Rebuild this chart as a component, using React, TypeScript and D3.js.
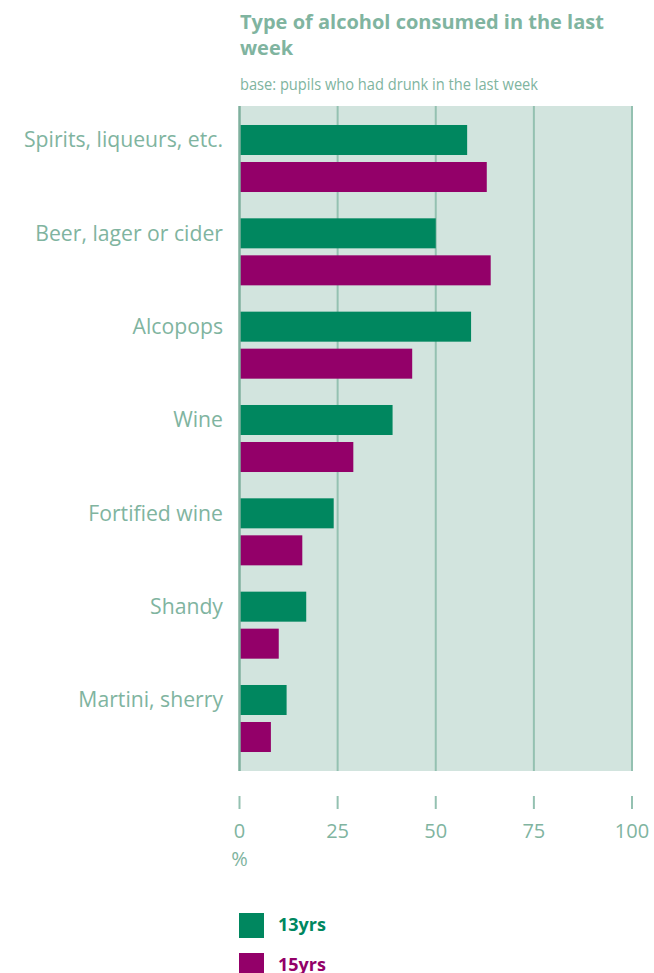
import React from "react";
import * as d3 from "d3";

const categories = [
  "Spirits, liqueurs, etc.",
  "Beer, lager or cider",
  "Alcopops",
  "Wine",
  "Fortified wine",
  "Shandy",
  "Martini, sherry",
];
const series = ["13yrs", "15yrs"];
const values13 = [58, 50, 59, 39, 24, 17, 12];
const values15 = [63, 64, 44, 29, 16, 10, 8];
const xTicks = [0, 25, 50, 75, 100];

const GREEN = "#00875f";
const PURPLE = "#930069";
const BG = "#d2e4de";
const GRID = "#94c1b1";
const TEXT = "#80b4a0";
const FONT = "'Open Sans', 'Noto Sans', sans-serif";

export default function App() {
  const W = 654;
  const H = 973;
  const x = d3.scaleLinear().domain([0, 100]).range([239.5, 632]);
  const y = d3
    .scaleBand<string>()
    .domain(categories)
    .range([106, 771])
    .paddingInner(0.282)
    .paddingOuter(0.2035);
  const ys = d3
    .scaleBand<string>()
    .domain(series)
    .range([0, y.bandwidth()])
    .paddingInner(0.189);
  const color = d3.scaleOrdinal<string, string>().domain(series).range([GREEN, PURPLE]);
  const data = categories.map((c, i) => ({ c, v: [values13[i], values15[i]] }));

  return (
    <svg
      width={W}
      height={H}
      style={{ position: "absolute", left: 0, top: 0, fontFamily: FONT }}
    >
      <text x={240} y={29} fontSize={20} fontWeight={700} fill={TEXT}>
        Type of alcohol consumed in the last
      </text>
      <text x={240} y={55} fontSize={20} fontWeight={700} fill={TEXT}>
        week
      </text>
      <text
        x={240}
        y={90}
        fontSize={16}
        fill={TEXT}
        fontFamily="'Liberation Sans Narrow', 'Open Sans', sans-serif"
        textLength={298}
        lengthAdjust="spacingAndGlyphs"
      >
        base: pupils who had drunk in the last week
      </text>

      <rect x={x(0)} y={106} width={x(100) - x(0) + 1} height={665} fill={BG} />
      {xTicks.slice(1).map((t) => (
        <line key={t} x1={x(t)} x2={x(t)} y1={106} y2={771} stroke={GRID} strokeWidth={2} />
      ))}

      {data.map((d) => (
        <g key={d.c} transform={`translate(0,${y(d.c)})`}>
          {series.map((s, j) => (
            <rect
              key={s}
              x={x(0)}
              y={ys(s)}
              width={x(d.v[j]) - x(0)}
              height={ys.bandwidth()}
              fill={color(s)}
            />
          ))}
          <text
            x={223}
            y={(ys("13yrs") as number) + ys.bandwidth() / 2}
            dy="0.35em"
            textAnchor="end"
            fontSize={21.2}
            fill={TEXT}
          >
            {d.c}
          </text>
        </g>
      ))}
      <line x1={x(0)} x2={x(0)} y1={106} y2={771} stroke="#7fb09e" strokeWidth={2.5} />

      {xTicks.map((t) => (
        <g key={t}>
          <line x1={x(t)} x2={x(t)} y1={796} y2={809} stroke={GRID} strokeWidth={2} />
          <text x={x(t)} y={838} textAnchor="middle" fontSize={20} fill={TEXT}>
            {t}
          </text>
        </g>
      ))}
      <text x={x(0)} y={866} textAnchor="middle" fontSize={20} fill={TEXT}>
        %
      </text>

      {series.map((s, i) => (
        <g key={s} transform={`translate(239,${913 + i * 40})`}>
          <rect width={25} height={25} fill={color(s)} />
          <text x={39} y={18} fontSize={18} fontWeight={700} fill={color(s)}>
            {s}
          </text>
        </g>
      ))}
    </svg>
  );
}
